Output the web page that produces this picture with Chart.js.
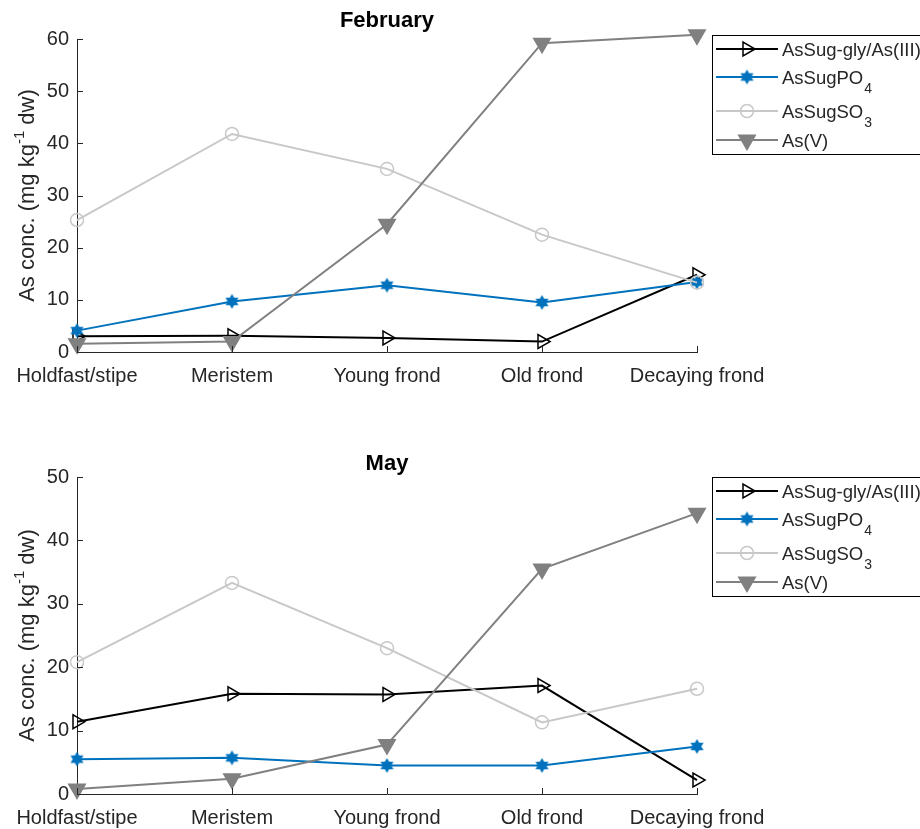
<!DOCTYPE html>
<html><head><meta charset="utf-8">
<script src="https://cdn.jsdelivr.net/npm/chart.js@4.4.1/dist/chart.umd.min.js"></script>
<style>
body{margin:0;background:#fff;width:920px;height:829px;overflow:hidden;position:relative}
canvas{position:absolute;left:0}
</style></head><body>
<canvas id="feb" width="920" height="410" style="top:0"></canvas>
<canvas id="may" width="920" height="409" style="top:420px"></canvas>
<script>
// ---------- data ----------
const categories = ['Holdfast/stipe', 'Meristem', 'Young frond', 'Old frond', 'Decaying frond'];
const seriesNames = ['AsSug-gly/As(III)', 'AsSugPO4', 'AsSugSO3', 'As(V)'];
const legendMain = ['AsSug-gly/As(III)', 'AsSugPO', 'AsSugSO', 'As(V)'];
const legendSub = ['', '4', '3', ''];
const panelTitles = ['February', 'May'];
const yAxisLabel = ['As conc. (mg kg', '-1', ' dw)'];

const febGly = [3.0, 3.1, 2.7, 2.0, 14.8];
const febPO4 = [4.1, 9.7, 12.8, 9.5, 13.4];
const febSO3 = [25.3, 41.8, 35.1, 22.5, 13.3];
const febAsV = [1.6, 2.0, 24.5, 59.2, 60.8];

const mayGly = [11.4, 15.8, 15.7, 17.1, 2.2];
const mayPO4 = [5.5, 5.7, 4.5, 4.5, 7.5];
const maySO3 = [20.8, 33.3, 23.0, 11.3, 16.6];
const mayAsV = [0.8, 2.4, 7.8, 35.5, 44.3];

const febYMax = 60;
const mayYMax = 50;
const yStep = 10;

// ---------- styles ----------
const FONT = '"Liberation Sans", Arial, Helvetica, sans-serif';
const AXIS = '#262626';

function hexagram(color, R) {
  const c = document.createElement('canvas');
  const s = Math.ceil(R * 2 + 2);
  c.width = s; c.height = s;
  const g = c.getContext('2d');
  g.fillStyle = color;
  g.beginPath();
  for (let k = 0; k < 12; k++) {
    const r = (k % 2 === 0) ? R : R * 0.577;
    const a = -Math.PI / 2 + k * Math.PI / 6;
    const px = s / 2 + r * Math.cos(a), py = s / 2 + r * Math.sin(a);
    if (k === 0) g.moveTo(px, py); else g.lineTo(px, py);
  }
  g.closePath();
  g.fill();
  return c;
}
const hexImg = hexagram('#0072BD', 7.5);

const styles = [
  {color: '#000000', point: 'triangle', rot: 90, r: 8, fill: 'rgba(0,0,0,0)', order: 3},
  {color: '#0072BD', point: hexImg, rot: 0, r: 7, fill: '#0072BD', order: 2},
  {color: '#C8C8C8', point: 'circle', rot: 0, r: 6.5, fill: 'rgba(0,0,0,0)', order: 1},
  {color: '#808080', point: 'triangle', rot: 180, r: 9.5, fill: '#808080', order: 0}
];

function drawMarker(ctx, st, x, y) {
  ctx.save();
  ctx.strokeStyle = st.color; ctx.fillStyle = st.fill; ctx.lineWidth = 1.5;
  if (st.point === 'circle') {
    ctx.beginPath(); ctx.arc(x, y, st.r, 0, Math.PI * 2); ctx.fill(); ctx.stroke();
  } else if (st.point === 'triangle') {
    let rad = st.rot * Math.PI / 180;
    ctx.beginPath();
    for (let k = 0; k < 3; k++) {
      const px = x + Math.sin(rad) * st.r, py = y - Math.cos(rad) * st.r;
      if (k === 0) ctx.moveTo(px, py); else ctx.lineTo(px, py);
      rad += 2 * Math.PI / 3;
    }
    ctx.closePath(); ctx.fill(); ctx.stroke();
  } else {
    ctx.drawImage(st.point, x - st.point.width / 2, y - st.point.height / 2);
  }
  ctx.restore();
}

const decor = {
  id: 'decor',
  afterDraw(chart, args, opts) {
    const ctx = chart.ctx, a = chart.chartArea;
    const xs = chart.scales.x, ys = chart.scales.y;
    ctx.save();
    // inward tick marks
    ctx.strokeStyle = AXIS; ctx.lineWidth = 1;
    ctx.beginPath();
    ys.ticks.forEach(t => {
      const p = Math.round(ys.getPixelForValue(t.value)) + 0.5;
      ctx.moveTo(a.left, p); ctx.lineTo(a.left + 6, p);
    });
    categories.forEach((c, i) => {
      const p = Math.round(xs.getPixelForValue(i)) + 0.5;
      ctx.moveTo(p, a.bottom); ctx.lineTo(p, a.bottom - 6);
    });
    ctx.stroke();

    // title
    ctx.fillStyle = '#000';
    ctx.font = 'bold 22px ' + FONT;
    ctx.textAlign = 'center'; ctx.textBaseline = 'alphabetic';
    ctx.fillText(opts.title, (a.left + a.right) / 2, opts.titleBase);

    // y axis label with superscript
    ctx.save();
    ctx.translate(33.5, (a.top + a.bottom) / 2);
    ctx.rotate(-Math.PI / 2);
    ctx.fillStyle = AXIS;
    ctx.textAlign = 'left';
    const big = '22px ' + FONT, small = '15px ' + FONT;
    ctx.font = big; const w1 = ctx.measureText(yAxisLabel[0]).width;
    ctx.font = small; const w2 = ctx.measureText(yAxisLabel[1]).width;
    ctx.font = big; const w3 = ctx.measureText(yAxisLabel[2]).width;
    let x0 = -(w1 + w2 + w3) / 2;
    ctx.font = big; ctx.fillText(yAxisLabel[0], x0, 0);
    ctx.font = small; ctx.fillText(yAxisLabel[1], x0 + w1, -10);
    ctx.font = big; ctx.fillText(yAxisLabel[2], x0 + w1 + w2, 0);
    ctx.restore();

    // legend
    const lx = a.right + 15, ly = opts.legendTop;
    const rows = [14, 42, 76, 105];
    ctx.fillStyle = '#fff';
    ctx.fillRect(lx, ly, 240, 119);
    ctx.strokeStyle = '#000'; ctx.lineWidth = 1;
    ctx.strokeRect(Math.round(lx) + 0.5, Math.round(ly) + 0.5, 240, 119);
    styles.forEach((st, i) => {
      const yy = ly + rows[i];
      ctx.strokeStyle = st.color; ctx.lineWidth = 2;
      ctx.beginPath(); ctx.moveTo(lx + 4, yy); ctx.lineTo(lx + 66, yy); ctx.stroke();
      drawMarker(ctx, st, lx + 35, yy);
      ctx.fillStyle = AXIS; ctx.textAlign = 'left'; ctx.textBaseline = 'alphabetic';
      ctx.font = '18.5px ' + FONT;
      ctx.fillText(legendMain[i], lx + 70, yy + 6.5);
      if (legendSub[i]) {
        const w = ctx.measureText(legendMain[i]).width;
        ctx.font = '14px ' + FONT;
        ctx.fillText(legendSub[i], lx + 71 + w, yy + 16);
      }
    });
    ctx.restore();
  }
};

function makeChart(id, title, data, yMax, padTop, xAxisH, titleBase, legendTop) {
  const cv = document.getElementById(id);
  const H = cv.height;
  return new Chart(cv, {
    type: 'line',
    data: {
      labels: categories,
      datasets: data.map((d, i) => ({
        label: seriesNames[i],
        data: d,
        borderColor: styles[i].color,
        backgroundColor: styles[i].fill,
        borderWidth: 2,
        pointStyle: styles[i].point,
        pointRotation: styles[i].rot,
        pointRadius: styles[i].r,
        pointHoverRadius: styles[i].r,
        pointBorderWidth: 1.5,
        pointBorderColor: styles[i].color,
        pointBackgroundColor: styles[i].fill,
        tension: 0,
        fill: false,
        order: styles[i].order,
        clip: false
      }))
    },
    options: {
      responsive: false,
      animation: false,
      events: [],
      layout: {padding: {top: padTop, right: 223, left: 0, bottom: 0}},
      plugins: {
        legend: {display: false},
        tooltip: {enabled: false},
        title: {display: false},
        decor: {title: title, titleBase: titleBase, legendTop: legendTop}
      },
      scales: {
        x: {
          type: 'category',
          offset: false,
          grid: {display: true, drawOnChartArea: false, drawTicks: false},
          border: {display: true, color: AXIS, width: 1},
          ticks: {color: AXIS, font: {size: 20, family: FONT}, padding: 12, maxRotation: 0, autoSkip: false},
          afterFit(s) { s.height = xAxisH; }
        },
        y: {
          min: 0, max: yMax,
          grid: {display: true, drawOnChartArea: false, drawTicks: false},
          border: {display: true, color: AXIS, width: 1},
          ticks: {stepSize: yStep, color: AXIS, font: {size: 20, family: FONT}, padding: 8},
          afterFit(s) { s.width = 77; }
        }
      }
    },
    plugins: [decor]
  });
}

makeChart('feb', panelTitles[0], [febGly, febPO4, febSO3, febAsV], febYMax, 39, 58, 27, 35);
makeChart('may', panelTitles[1], [mayGly, mayPO4, maySO3, mayAsV], mayYMax, 57, 35, 50, 57);
</script>
</body></html>
